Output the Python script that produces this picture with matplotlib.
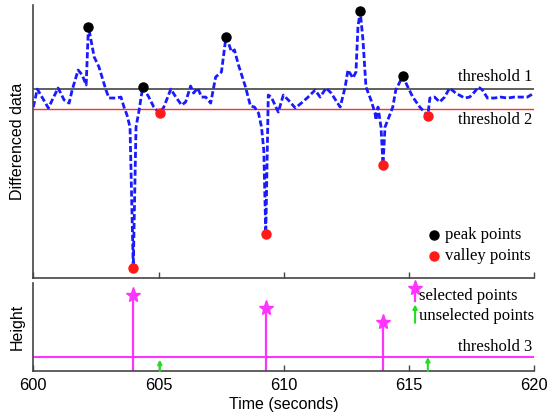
import matplotlib
matplotlib.use("Agg")
import matplotlib.pyplot as plt

# ---------------- data ----------------
time_s = [600.00, 600.16, 600.60, 600.99, 601.23, 601.43, 601.55, 601.79, 601.95, 602.11,
          602.20, 602.43, 602.62, 602.90, 603.02, 603.30, 603.50, 603.62, 603.74, 603.86,
          603.99, 604.10, 604.21, 604.37, 604.61, 604.81, 605.05, 605.21, 605.49, 605.69,
          605.92, 606.08, 606.28, 606.40, 606.56, 606.72, 606.88, 607.08, 607.28, 607.51,
          607.69, 607.79, 607.91, 608.03, 608.19, 608.47, 608.67, 608.83, 608.99, 609.11,
          609.20, 609.28, 609.38, 609.50, 609.78, 609.98, 610.18, 610.46, 610.70, 610.97,
          611.25, 611.45, 611.69, 611.89, 612.25, 612.45, 612.56, 612.76, 612.88, 612.96,
          613.05, 613.16, 613.28, 613.48, 613.64, 613.68, 613.76, 613.88, 613.96, 614.04,
          614.15, 614.35, 614.47, 614.63, 614.75, 614.95, 615.15, 615.43, 615.75, 615.83,
          616.02, 616.22, 616.42, 616.62, 616.86, 617.22, 617.42, 617.61, 617.77, 617.93,
          618.13, 618.41, 618.65, 618.93, 619.20, 619.44, 619.72, 620.00]
diff_data = [-0.81, 0.90, -0.90, 1.00, -0.14, -0.43, 0.81, 2.71, 2.24, 1.29,
             6.84, 3.95, 3.00, 0.81, 0.05, 0.05, 0.14, -0.81, -1.57, -2.71,
             -16.05, -2.71, -1.29, 1.12, 0.14, -0.81, -1.41, -0.81, 0.90, 0.14,
             -0.62, -0.33, 1.19, 0.52, 1.00, 0.14, 0.14, -0.43, 2.05, 2.52,
             5.83, 5.29, 4.43, 4.62, 3.19, 1.10, -0.71, -0.81, -1.38, -2.71,
             -4.90, -12.84, 0.33, 0.14, -1.29, 0.33, -0.14, -0.90, -0.43, 0.14,
             0.81, 0.14, 1.00, 0.52, -0.81, 1.10, 2.71, 1.95, 2.52, 6.81,
             8.27, 5.57, 1.10, -0.14, -1.38, -2.05, -0.81, -2.71, -6.27, -2.71,
             -2.05, -0.81, 0.81, 1.57, 2.14, 1.10, 0.14, -0.81, -1.64, 0.05,
             0.14, -0.33, 0.14, 1.00, 0.52, 0.05, 0.14, 0.62, 1.10, 0.81,
             0.05, 0.05, 0.14, 0.05, 0.14, 0.14, 0.14, 0.52]

peak_t = [602.20, 604.37, 607.69, 613.05, 614.75]
peak_v = [6.84, 1.12, 5.83, 8.27, 2.14]
valley_t = [603.99, 605.05, 609.28, 613.96, 615.75]
valley_v = [-16.05, -1.41, -12.84, -6.27, -1.64]

threshold1 = 0.90
threshold2 = -1.00

selected_t = [603.99, 609.28, 613.96]
selected_h = [0.87, 0.72, 0.56]
unselected_t = [605.05, 615.75]
unselected_h = [0.13, 0.16]
threshold3 = 0.16

xticks = [600, 605, 610, 615, 620]

# ---------------- style ----------------
SANS = "Liberation Sans"
SERIF = "Liberation Serif"
MAGENTA = "#ff33ff"
GREEN = "#22dd22"
SPINE = "#444444"

fig = plt.figure(figsize=(5.48, 4.15), dpi=100)
ax1 = fig.add_axes([0.0608, 0.3313, 0.9142, 0.657])
ax2 = fig.add_axes([0.0608, 0.106, 0.9142, 0.2113])

for ax in (ax1, ax2):
    ax.spines["top"].set_visible(False)
    ax.spines["right"].set_visible(False)
    ax.spines["left"].set_color(SPINE)
    ax.spines["bottom"].set_color(SPINE)
    ax.spines["left"].set_linewidth(1.2)
    ax.spines["bottom"].set_linewidth(1.2)
    ax.set_xlim(600, 620)
    ax.set_xticks(xticks)
    ax.tick_params(axis="x", direction="in", length=4, color=SPINE, width=1.0)
    ax.set_yticks([])

# ---- top panel ----
ax1.set_ylim(-17.0, 8.9)
ax1.axhline(threshold1, color="#444444", lw=1.2, zorder=1)
ax1.axhline(threshold2, color="#ff3030", lw=1.0, zorder=1)
ax1.plot(time_s, diff_data, color="#1a1aff", lw=2.0, dashes=(2.2, 1.0), zorder=2)
ax1.plot(peak_t, peak_v, "o", color="black", ms=6.5, zorder=3)
ax1.plot(valley_t, valley_v, "o", color="#ff1a1a", ms=6.5, zorder=3)
ax1.tick_params(axis="x", labelbottom=False)
ax1.set_ylabel("Differenced data", fontfamily=SANS, fontsize=11.5, labelpad=6)

ax1.text(0.996, 0.737, "threshold 1", transform=ax1.transAxes, ha="right", va="center",
         fontfamily=SERIF, fontsize=12)
ax1.text(0.996, 0.577, "threshold 2", transform=ax1.transAxes, ha="right", va="center",
         fontfamily=SERIF, fontsize=12)
ax1.plot([0.800], [0.156], "o", color="black", ms=6.5, transform=ax1.transAxes, clip_on=False)
ax1.plot([0.800], [0.079], "o", color="#ff1a1a", ms=6.5, transform=ax1.transAxes, clip_on=False)
ax1.text(0.822, 0.156, "peak points", transform=ax1.transAxes, ha="left", va="center",
         fontfamily=SERIF, fontsize=12)
ax1.text(0.822, 0.079, "valley points", transform=ax1.transAxes, ha="left", va="center",
         fontfamily=SERIF, fontsize=12)

# ---- bottom panel ----
ax2.set_ylim(0, 1.0)
ax2.axhline(threshold3, color=MAGENTA, lw=1.5, zorder=1)
ax2.vlines(selected_t, 0, selected_h, color=MAGENTA, lw=1.6, zorder=2)
ax2.plot(selected_t, selected_h, "*", color=MAGENTA, ms=11, zorder=3)
for t, h in zip(unselected_t, unselected_h):
    ax2.annotate("", xy=(t, h), xytext=(t, 0),
                 arrowprops=dict(arrowstyle="-|>", color=GREEN, lw=1.5,
                                 mutation_scale=6, shrinkA=0, shrinkB=0))
ax2.set_ylabel("Height", fontfamily=SANS, fontsize=11.5, labelpad=6)
ax2.set_xlabel("Time (seconds)", fontfamily=SANS, fontsize=11.5, labelpad=3)
for lab in ax2.get_xticklabels():
    lab.set_fontfamily(SANS)
    lab.set_fontsize(11.8)
ax2.tick_params(axis="x", pad=5)

ax2.text(0.996, 0.27, "threshold 3", transform=ax2.transAxes, ha="right", va="center",
         fontfamily=SERIF, fontsize=12)
# manual legend
ax2.plot([0.762, 0.762], [0.80, 0.94], color=MAGENTA, lw=1.6, transform=ax2.transAxes, clip_on=False)
ax2.plot([0.762], [0.95], "*", color=MAGENTA, ms=11, transform=ax2.transAxes, clip_on=False)
ax2.text(0.770, 0.85, "selected points", transform=ax2.transAxes, ha="left", va="center",
         fontfamily=SERIF, fontsize=12)
ax2.annotate("", xy=(0.762, 0.76), xytext=(0.762, 0.55), xycoords="axes fraction",
             textcoords="axes fraction",
             arrowprops=dict(arrowstyle="-|>", color=GREEN, lw=1.5, mutation_scale=6,
                             shrinkA=0, shrinkB=0))
ax2.text(0.770, 0.63, "unselected points", transform=ax2.transAxes, ha="left", va="center",
         fontfamily=SERIF, fontsize=12)

fig.savefig("out.png", dpi=100)
